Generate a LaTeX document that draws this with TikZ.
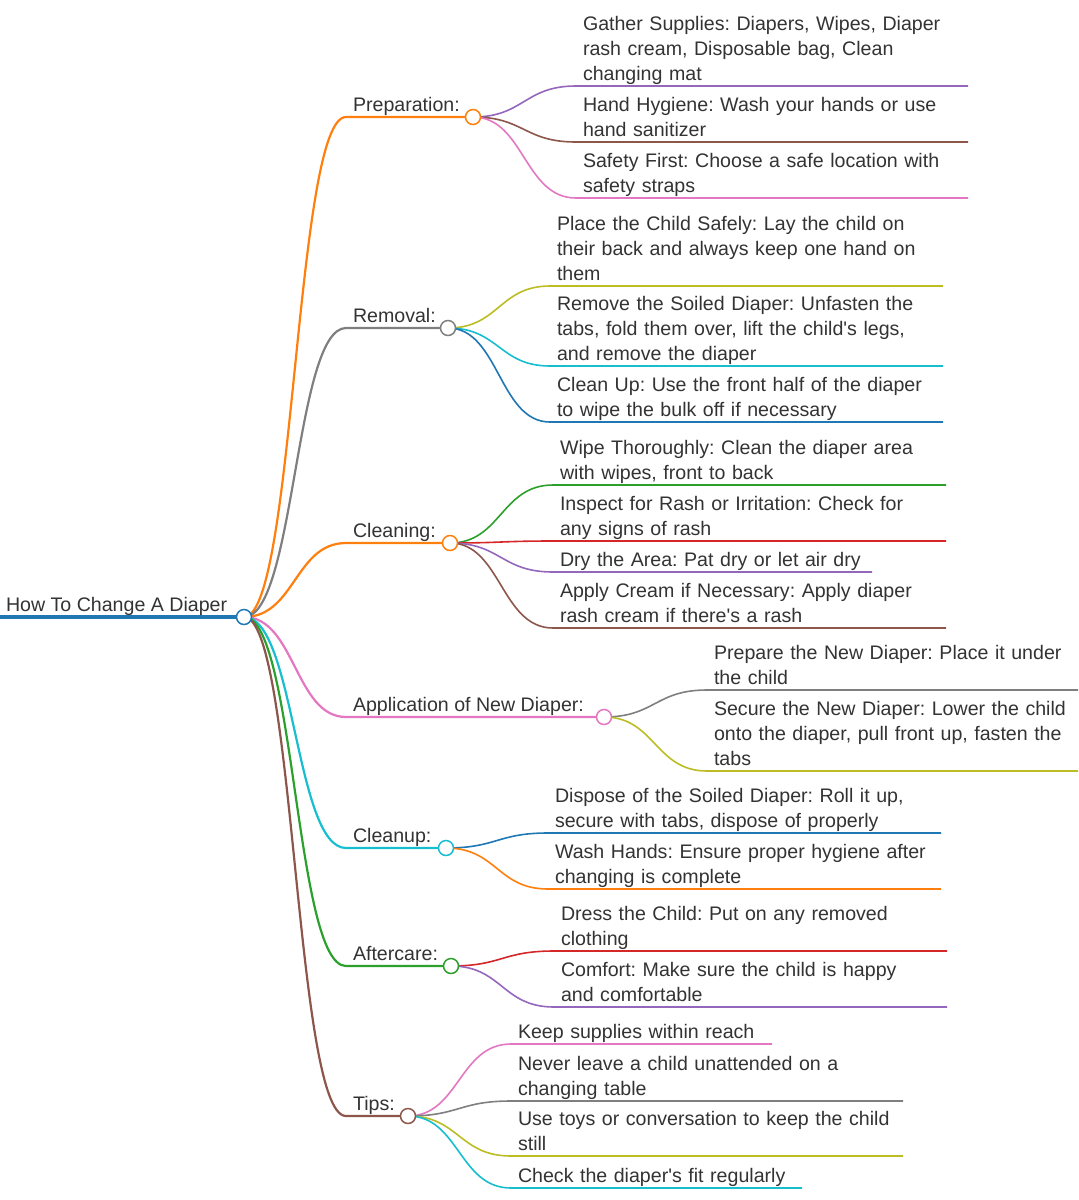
\documentclass[tikz,border=0pt]{standalone}
\usepackage{fontspec}
\setmainfont{Liberation Sans}
\usepackage{tikz}
\usetikzlibrary{positioning}
\pgfdeclarelayer{background}
\pgfsetlayers{background,main}
\definecolor{mmblue}{HTML}{1F77B4}
\definecolor{mmorange}{HTML}{FF7F0E}
\definecolor{mmgreen}{HTML}{2CA02C}
\definecolor{mmred}{HTML}{D62728}
\definecolor{mmpurple}{HTML}{9467BD}
\definecolor{mmbrown}{HTML}{8C564B}
\definecolor{mmpink}{HTML}{E377C2}
\definecolor{mmgray}{HTML}{7F7F7F}
\definecolor{mmolive}{HTML}{BCBD22}
\definecolor{mmcyan}{HTML}{17BECF}

\begin{document}
\begin{tikzpicture}[
  x=0.5pt, y=-0.5pt,
  font=\fontsize{9.8pt}{12.5pt}\selectfont,
  txt/.style={anchor=south west, inner xsep=3.5pt, inner ysep=0pt, outer sep=0pt,
    text=black!80, align=left,
    execute at begin node={\frenchspacing\hyphenpenalty=10000\exhyphenpenalty=10000\linepenalty=3000},
    execute at end node={\rule[-3pt]{0pt}{3pt}}},
  leaf/.style={txt, text width=#1},
  dot/.style={circle, draw=#1, fill=white, line width=0.75pt, minimum size=7.5pt, inner sep=0pt},
  trunk/.style={line width=1.75pt, mmblue},
  limb/.style={line width=1.1pt, #1},
  twig/.style={line width=0.8pt, #1},
]
  \useasboundingbox (0,0) rectangle (1078,1200);

  \node[txt, inner xsep=3pt] (title) at (0,617) {How To Change A Diaper};
  \node[dot=mmblue] (root) at (244,617) {};

  \node[txt] (prepT) at (346,117) {Preparation:};
  \node[dot=mmorange] (prep) at (473,117) {};
  \node[txt] (remT) at (346,328) {Removal:};
  \node[dot=mmgray] (rem) at (448,328) {};
  \node[txt] (cleanT) at (346,543) {Cleaning:};
  \node[dot=mmorange] (clean) at (450,543) {};
  \node[txt] (applT) at (346,717) {Application of New Diaper:};
  \node[dot=mmpink] (appl) at (604,717) {};
  \node[txt] (cupT) at (346,848) {Cleanup:};
  \node[dot=mmcyan] (cup) at (446,848) {};
  \node[txt] (afterT) at (346,966) {Aftercare:};
  \node[dot=mmgreen] (after) at (451,966) {};
  \node[txt] (tipsT) at (346,1116) {Tips:};
  \node[dot=mmbrown] (tips) at (408,1116) {};

  \node[leaf=189pt] (gather) at (576,86) {Gather Supplies: Diapers, Wipes, Diaper\\rash cream, Disposable bag, Clean\\changing mat};
  \node[leaf=189pt] (hygiene) at (576,142) {Hand Hygiene: Wash your hands or use\\hand sanitizer};
  \node[leaf=189pt] (safety) at (576,198) {Safety First: Choose a safe location with\\safety straps};

  \node[leaf=189.5pt] (place) at (550,286) {Place the Child Safely: Lay the child on\\their back and always keep one hand on\\them};
  \node[leaf=189.5pt] (soiled) at (550,366) {Remove the Soiled Diaper: Unfasten the\\tabs, fold them over, lift the child\textquotesingle s legs,\\and remove the diaper};
  \node[leaf=189.5pt] (bulk) at (550,422) {Clean Up: Use the front half of the diaper\\to wipe the bulk off if necessary};

  \node[leaf=189.5pt] (wipe) at (553,485) {Wipe Thoroughly: Clean the diaper area\\with wipes, front to back};
  \node[leaf=189.5pt] (inspect) at (553,541) {Inspect for Rash or Irritation: Check for\\any signs of rash};
  \node[leaf=152.5pt] (dry) at (553,572) {Dry the Area: Pat dry or let air dry};
  \node[leaf=189.5pt] (cream) at (553,628) {Apply Cream if Necessary: Apply diaper\\rash cream if there\textquotesingle s a rash};

  \node[leaf=178.5pt] (under) at (707,690) {Prepare the New Diaper: Place it under\\the child};
  \node[leaf=178.5pt] (fasten) at (707,771) {Secure the New Diaper: Lower the child\\onto the diaper, pull front up, fasten the\\tabs};

  \node[leaf=189.5pt] (dispose) at (548,833) {Dispose of the Soiled Diaper: Roll it up,\\secure with tabs, dispose of properly};
  \node[leaf=189.5pt] (wash) at (548,889) {Wash Hands: Ensure proper hygiene after\\changing is complete};

  \node[leaf=189.5pt] (dress) at (554,951) {Dress the Child: Put on any removed\\clothing};
  \node[leaf=189.5pt] (comfort) at (554,1007) {Comfort: Make sure the child is happy\\and comfortable};

  \node[leaf=123.5pt] (reach) at (511,1044) {Keep supplies within reach};
  \node[leaf=189pt] (never) at (511,1101) {Never leave a child unattended on a\\changing table};
  \node[leaf=189pt] (toys) at (511,1156) {Use toys or conversation to keep the child\\still};
  \node[leaf=138.5pt] (fit) at (511,1188) {Check the diaper\textquotesingle s fit regularly};

  \begin{pgfonlayer}{background}
    \draw[trunk] (title.south west) -- (root.center);

    \draw[limb=mmorange] (root.center) .. controls (295,617) and (295,117) .. (prepT.south west) -- (prep.center);
    \draw[limb=mmgray] (root.center) .. controls (295,617) and (295,328) .. (remT.south west) -- (rem.center);
    \draw[limb=mmorange] (root.center) .. controls (295,617) and (295,543) .. (cleanT.south west) -- (clean.center);
    \draw[limb=mmpink] (root.center) .. controls (295,617) and (295,717) .. (applT.south west) -- (appl.center);
    \draw[limb=mmcyan] (root.center) .. controls (295,617) and (295,848) .. (cupT.south west) -- (cup.center);
    \draw[limb=mmgreen] (root.center) .. controls (295,617) and (295,966) .. (afterT.south west) -- (after.center);
    \draw[limb=mmbrown] (root.center) .. controls (295,617) and (295,1116) .. (tipsT.south west) -- (tips.center);

    \draw[twig=mmpurple] (prep.center) .. controls (524,117) and (524,86) .. (gather.south west) -- (gather.south east);
    \draw[twig=mmbrown] (prep.center) .. controls (524,117) and (524,142) .. (hygiene.south west) -- (hygiene.south east);
    \draw[twig=mmpink] (prep.center) .. controls (524,117) and (524,198) .. (safety.south west) -- (safety.south east);

    \draw[twig=mmolive] (rem.center) .. controls (499,328) and (499,286) .. (place.south west) -- (place.south east);
    \draw[twig=mmcyan] (rem.center) .. controls (499,328) and (499,366) .. (soiled.south west) -- (soiled.south east);
    \draw[twig=mmblue] (rem.center) .. controls (499,328) and (499,422) .. (bulk.south west) -- (bulk.south east);

    \draw[twig=mmgreen] (clean.center) .. controls (501,543) and (501,485) .. (wipe.south west) -- (wipe.south east);
    \draw[twig=mmred] (clean.center) .. controls (501,543) and (501,541) .. (inspect.south west) -- (inspect.south east);
    \draw[twig=mmpurple] (clean.center) .. controls (501,543) and (501,572) .. (dry.south west) -- (dry.south east);
    \draw[twig=mmbrown] (clean.center) .. controls (501,543) and (501,628) .. (cream.south west) -- (cream.south east);

    \draw[twig=mmgray] (appl.center) .. controls (655,717) and (655,690) .. (under.south west) -- (under.south east);
    \draw[twig=mmolive] (appl.center) .. controls (655,717) and (655,771) .. (fasten.south west) -- (fasten.south east);

    \draw[twig=mmblue] (cup.center) .. controls (497,848) and (497,833) .. (dispose.south west) -- (dispose.south east);
    \draw[twig=mmorange] (cup.center) .. controls (497,848) and (497,889) .. (wash.south west) -- (wash.south east);

    \draw[twig=mmred] (after.center) .. controls (502,966) and (502,951) .. (dress.south west) -- (dress.south east);
    \draw[twig=mmpurple] (after.center) .. controls (502,966) and (502,1007) .. (comfort.south west) -- (comfort.south east);

    \draw[twig=mmpink] (tips.center) .. controls (459,1116) and (459,1044) .. (reach.south west) -- (reach.south east);
    \draw[twig=mmgray] (tips.center) .. controls (459,1116) and (459,1101) .. (never.south west) -- (never.south east);
    \draw[twig=mmolive] (tips.center) .. controls (459,1116) and (459,1156) .. (toys.south west) -- (toys.south east);
    \draw[twig=mmcyan] (tips.center) .. controls (459,1116) and (459,1188) .. (fit.south west) -- (fit.south east);
  \end{pgfonlayer}
\end{tikzpicture}
\end{document}
